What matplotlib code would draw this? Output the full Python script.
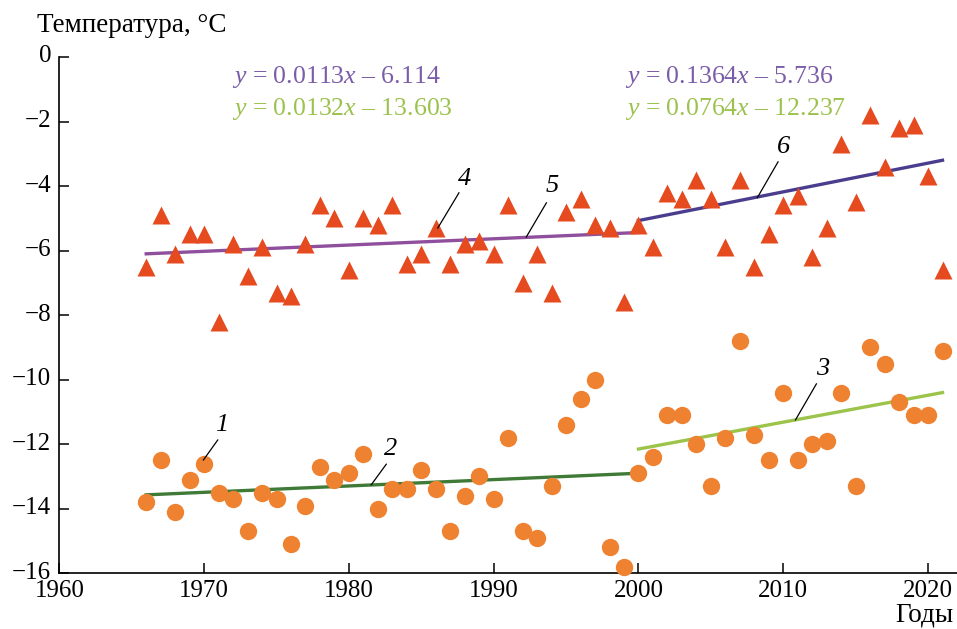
import numpy as np
import matplotlib
matplotlib.use("Agg")
import matplotlib.pyplot as plt
import matplotlib.transforms as mtransforms

plt.rcParams['font.family'] = ['Liberation Serif', 'DejaVu Serif']
plt.rcParams['mathtext.fontset'] = 'custom'
plt.rcParams['mathtext.rm'] = 'Liberation Serif'
plt.rcParams['mathtext.it'] = 'Liberation Serif:italic'

years = np.arange(1966, 2022)

# triangles (upper series)
tri_vals = [-6.5, -4.9, -6.1, -5.5, -5.5, -8.2, -5.8, -6.8, -5.9, -7.3,
            -7.4, -5.8, -4.6, -5.0, -6.6, -5.0, -5.2, -4.6, -6.4, -6.1,
            -5.3, -6.4, -5.8, -5.7, -6.1, -4.6, -7.0, -6.1, -7.3, -4.8,
            -4.4, -5.2, -5.3, -7.6, -5.2, -5.9, -4.2, -4.4, -3.8, -4.4,
            -5.9, -3.8, -6.5, -5.5, -4.6, -4.3, -6.2, -5.3, -2.7, -4.5,
            -1.8, -3.4, -2.2, -2.1, -3.7, -6.6]

# circles (lower series)
circ_vals = [-13.8, -12.5, -14.1, -13.1, -12.6, -13.5, -13.7, -14.7, -13.5, -13.7,
             -15.1, -13.9, -12.7, -13.1, -12.9, -12.3, -14.0, -13.4, -13.4, -12.8,
             -13.4, -14.7, -13.6, -13.0, -13.7, -11.8, -14.7, -14.9, -13.3, -11.4,
             -10.6, -10.0, -15.2, -15.8, -12.9, -12.4, -11.1, -11.1, -12.0, -13.3,
             -11.8, -8.8, -11.7, -12.5, -10.4, -12.5, -12.0, -11.9, -10.4, -13.3,
             -9.0, -9.5, -10.7, -11.1, -11.1, -9.1]

# trend line end points
trend_years_1 = [1966, 2000]
trend_years_2 = [2000, 2021]
trend_circ_1 = [-13.57, -12.90]
trend_circ_2 = [-12.15, -10.40]
trend_tri_1 = [-6.10, -5.44]
trend_tri_2 = [-5.07, -3.20]

eq_tri = [r"$y$ = 0.0113$x$ – 6.114", r"$y$ = 0.1364$x$ – 5.736"]
eq_circ = [r"$y$ = 0.0132$x$ – 13.603", r"$y$ = 0.0764$x$ – 12.237"]

# curve numbers: label, text pos, leader line start, leader line end
curve_labels = [
    ("1", (1971.2, -11.41), (1970.94, -11.87), (1969.95, -12.49)),
    ("2", (1982.9, -12.15), (1982.58, -12.62), (1981.54, -13.26)),
    ("3", (2012.7, -9.67), (2012.29, -10.13), (2010.84, -11.25)),
    ("4", (1988.0, -3.77), (1987.60, -4.21), (1986.14, -5.30)),
    ("5", (1994.05, -4.01), (1993.64, -4.52), (1992.25, -5.58)),
    ("6", (2010.0, -2.80), (2009.64, -3.25), (2008.21, -4.36)),
]

c_tri = '#e64a1f'
c_circ = '#ef8231'
c_purple = '#8f4f9c'
c_indigo = '#4a3d8e'
c_dgreen = '#3f7a36'
c_lgreen = '#9cc44b'
c_eq_purple = '#7a5ca8'
c_eq_green = '#9cc24e'

fig = plt.figure(figsize=(9.57, 6.29), dpi=100)
ax = fig.add_axes([0.062, 0.0886, 0.938, 0.8208])

ax.plot(trend_years_1, trend_circ_1, color=c_dgreen, lw=2.4, zorder=2)
ax.plot(trend_years_2, trend_circ_2, color=c_lgreen, lw=2.4, zorder=2)
ax.plot(trend_years_1, trend_tri_1, color=c_purple, lw=2.4, zorder=2)
ax.plot(trend_years_2, trend_tri_2, color=c_indigo, lw=2.4, zorder=2)

ax.plot(years, tri_vals, '^', color=c_tri, ms=13, mec='none', zorder=3, clip_on=False)
ax.plot(years, circ_vals, 'o', color=c_circ, ms=12.5, mec='none', zorder=3, clip_on=False)

for lab, tpos, p0, p1 in curve_labels:
    ax.text(tpos[0], tpos[1], lab, fontsize=19, style='italic', ha='center', va='center')
    ax.plot([p0[0], p1[0]], [p0[1], p1[1]], color='black', lw=0.9, zorder=4)

ax.text(1971.9, -0.62, eq_tri[0], color=c_eq_purple, fontsize=18.5, va='center')
ax.text(1971.9, -1.6, eq_circ[0], color=c_eq_green, fontsize=18.5, va='center')
ax.text(1999.1, -0.62, eq_tri[1], color=c_eq_purple, fontsize=18.5, va='center')
ax.text(1999.1, -1.6, eq_circ[1], color=c_eq_green, fontsize=18.5, va='center')

ax.set_xlim(1960, 2022)
ax.set_ylim(-16, 0)
ax.set_xticks(np.arange(1960, 2021, 10))
ax.set_yticks(np.arange(-16, 1, 2))
ax.tick_params(direction='in', length=7, width=1.1, labelsize=18)
ax.tick_params(axis='x', pad=5)
ax.tick_params(axis='y', pad=6)
ax.spines['top'].set_visible(False)
ax.spines['right'].set_visible(False)
for s in ['left', 'bottom']:
    ax.spines[s].set_linewidth(1.2)

# y tick labels sit a little above their ticks in the original
shift = mtransforms.ScaledTranslation(0, 3 / 100, fig.dpi_scale_trans)
for lbl in ax.get_yticklabels():
    lbl.set_transform(lbl.get_transform() + shift)

fig.text(37 / 957, 1 - 25 / 629, "Температура, °C", fontsize=19.5, ha='left', va='center')
fig.text(0.996, 1 - 615 / 629, "Годы", fontsize=19.5, ha='right', va='center')

fig.savefig("out.png", dpi=100)
